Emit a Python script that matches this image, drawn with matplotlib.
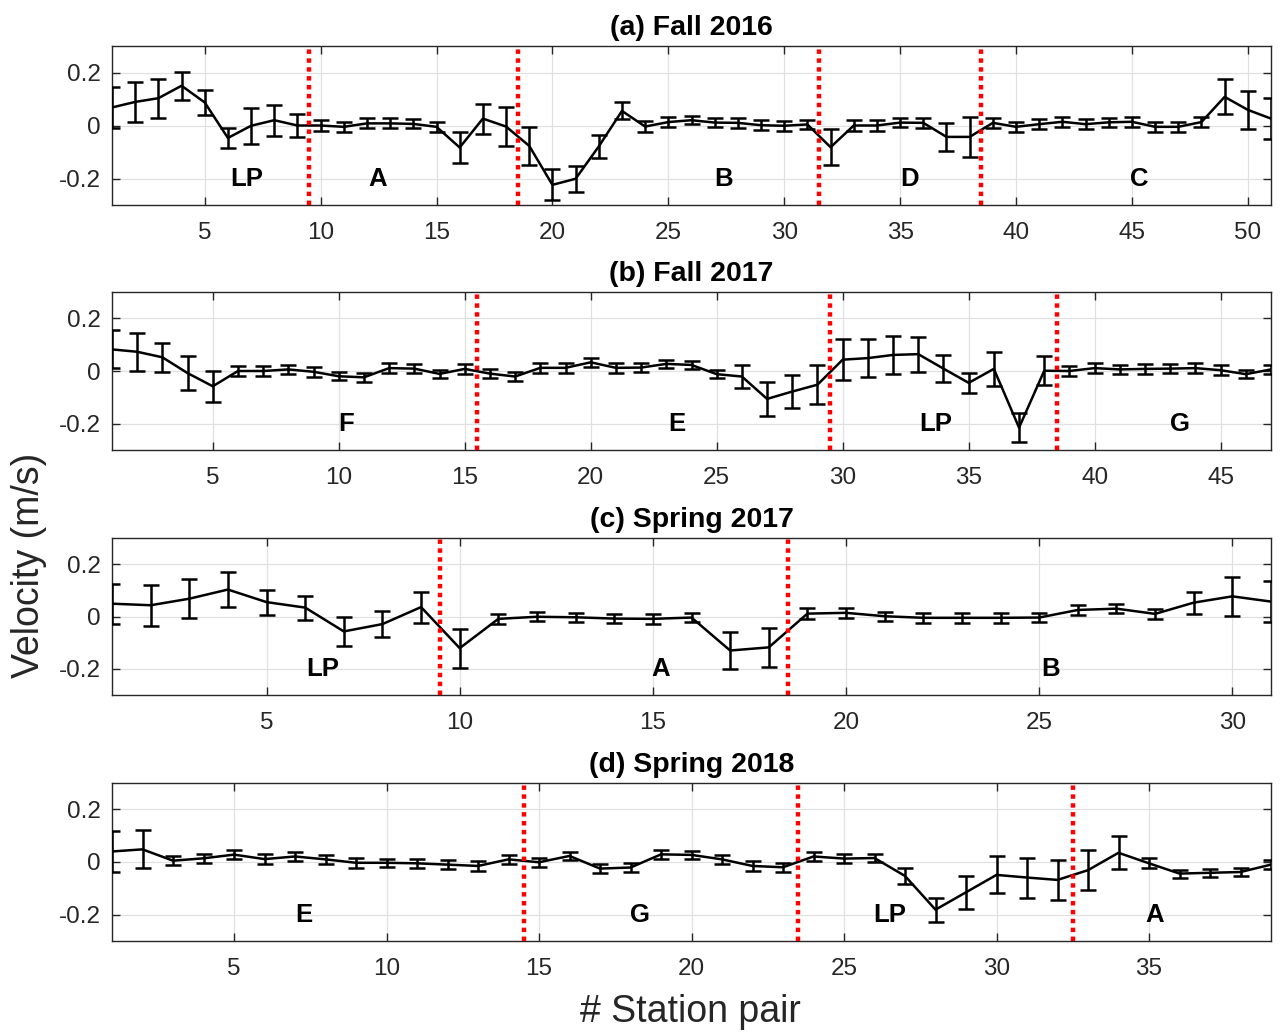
import matplotlib
matplotlib.use("Agg")
import matplotlib.pyplot as plt
import numpy as np

plt.rcParams['font.family'] = ['Liberation Sans', 'DejaVu Sans']

# ---------------- data ----------------
titles = ["(a) Fall 2016", "(b) Fall 2017", "(c) Spring 2017", "(d) Spring 2018"]

vel_a = [0.068, 0.089, 0.103, 0.150, 0.087, -0.047, -0.001, 0.020, 0.000, 0.000,
         -0.005, 0.008, 0.008, 0.006, -0.005, -0.083, 0.026, -0.004, -0.077, -0.224,
         -0.201, -0.079, 0.055, -0.004, 0.013, 0.020, 0.011, 0.010, 0.001, -0.001,
         0.004, -0.082, 0.000, 0.000, 0.011, 0.010, -0.043, -0.043, 0.010, -0.005,
         0.005, 0.014, 0.005, 0.012, 0.014, -0.005, -0.005, 0.013, 0.108, 0.059,
         0.026]
err_a = [0.077, 0.075, 0.073, 0.053, 0.046, 0.039, 0.068, 0.058, 0.044, 0.020,
         0.019, 0.019, 0.019, 0.017, 0.019, 0.059, 0.057, 0.075, 0.072, 0.058,
         0.049, 0.045, 0.032, 0.020, 0.019, 0.016, 0.018, 0.018, 0.018, 0.018,
         0.018, 0.068, 0.020, 0.020, 0.018, 0.018, 0.053, 0.075, 0.019, 0.019,
         0.018, 0.018, 0.018, 0.018, 0.018, 0.019, 0.019, 0.018, 0.066, 0.071,
         0.076]

vel_b = [0.082, 0.073, 0.052, -0.008, -0.058, 0.000, 0.000, 0.006, -0.003, -0.020,
         -0.024, 0.011, 0.009, -0.011, 0.008, -0.010, -0.021, 0.012, 0.012, 0.033,
         0.012, 0.013, 0.027, 0.023, -0.012, -0.021, -0.106, -0.078, -0.052, 0.043,
         0.049, 0.061, 0.064, 0.009, -0.045, 0.008, -0.215, 0.001, 0.000, 0.011,
         0.006, 0.008, 0.009, 0.011, 0.003, -0.012, 0.006]
err_b = [0.072, 0.072, 0.055, 0.065, 0.058, 0.020, 0.018, 0.018, 0.018, 0.016,
         0.016, 0.018, 0.018, 0.016, 0.018, 0.018, 0.016, 0.018, 0.018, 0.018,
         0.018, 0.018, 0.016, 0.016, 0.016, 0.045, 0.064, 0.063, 0.073, 0.078,
         0.073, 0.073, 0.067, 0.052, 0.037, 0.064, 0.054, 0.056, 0.018, 0.018,
         0.018, 0.018, 0.018, 0.018, 0.018, 0.016, 0.018]

vel_c = [0.049, 0.043, 0.068, 0.103, 0.055, 0.034, -0.057, -0.029, 0.036, -0.121,
         -0.009, -0.001, -0.003, -0.008, -0.009, -0.004, -0.130, -0.118, 0.011, 0.014,
         0.001, -0.005, -0.005, -0.005, -0.004, 0.025, 0.030, 0.010, 0.053, 0.077,
         0.057]
err_c = [0.076, 0.078, 0.074, 0.067, 0.048, 0.046, 0.057, 0.051, 0.059, 0.074,
         0.020, 0.018, 0.018, 0.018, 0.018, 0.018, 0.069, 0.074, 0.020, 0.018,
         0.018, 0.018, 0.018, 0.018, 0.018, 0.018, 0.016, 0.018, 0.042, 0.075,
         0.077]

vel_d = [0.040, 0.048, 0.005, 0.014, 0.028, 0.011, 0.021, 0.010, -0.003, -0.003,
         -0.005, -0.010, -0.015, 0.010, -0.001, 0.023, -0.025, -0.021, 0.029, 0.027,
         0.010, -0.015, -0.020, 0.021, 0.013, 0.015, -0.053, -0.181, -0.115, -0.049,
         -0.059, -0.068, -0.031, 0.035, -0.005, -0.044, -0.041, -0.038, -0.010]
err_d = [0.077, 0.072, 0.018, 0.018, 0.016, 0.018, 0.016, 0.018, 0.018, 0.016,
         0.018, 0.016, 0.018, 0.018, 0.018, 0.016, 0.018, 0.018, 0.016, 0.016,
         0.016, 0.018, 0.018, 0.016, 0.016, 0.016, 0.029, 0.045, 0.062, 0.070,
         0.076, 0.075, 0.075, 0.063, 0.019, 0.015, 0.015, 0.015, 0.016]

bounds_a = [9.5, 18.5, 31.5, 38.5]
bounds_b = [15.5, 29.5, 38.5]
bounds_c = [9.5, 18.5]
bounds_d = [14.5, 23.5, 32.5]

regions_a = ["LP", "A", "B", "D", "C"]
regpos_a = [6.8, 12.45, 27.4, 35.4, 45.3]
regions_b = ["F", "E", "LP", "G"]
regpos_b = [10.3, 23.4, 33.7, 43.4]
regions_c = ["LP", "A", "B"]
regpos_c = [6.45, 15.2, 25.3]
regions_d = ["E", "G", "LP", "A"]
regpos_d = [7.3, 18.3, 26.5, 35.2]

yticks = [-0.2, 0, 0.2]
yticklabels = ["-0.2", "0", "0.2"]

panels = [
    (vel_a, err_a, bounds_a, regions_a, regpos_a),
    (vel_b, err_b, bounds_b, regions_b, regpos_b),
    (vel_c, err_c, bounds_c, regions_c, regpos_c),
    (vel_d, err_d, bounds_d, regions_d, regpos_d),
]

# ---------------- figure ----------------
W, H = 1283, 1036
fig = plt.figure(figsize=(W / 100, H / 100), dpi=100)

left_px, right_px = 112, 1271
tops = [46, 292, 538, 783]
bots = [205, 450, 695, 941]

tick_col = '#262626'
for i, (vel, err, bnds, regs, rpos) in enumerate(panels):
    ax = fig.add_axes([left_px / W, 1 - bots[i] / H,
                       (right_px - left_px) / W, (bots[i] - tops[i]) / H])
    n = len(vel)
    x = np.arange(1, n + 1)
    ax.errorbar(x, vel, yerr=err, color='black', lw=1.8, capsize=5.5,
                capthick=1.8, elinewidth=1.8, zorder=3)
    for b in bnds:
        ax.axvline(b, color='red', ls=(0, (1, 1)), lw=3.2, zorder=4)
    for r, p in zip(regs, rpos):
        ax.text(p, -0.2, r, ha='center', va='center', fontsize=18.5,
                fontweight='bold', color='black', zorder=5)
    ax.set_xlim(1, n)
    ax.set_ylim(-0.3, 0.3)
    ax.set_xticks(np.arange(5, n + 1, 5))
    ax.set_yticks(yticks)
    ax.set_yticklabels(yticklabels)
    ax.grid(True, color='#e0e0e0', lw=0.9, zorder=0)
    ax.set_axisbelow(True)
    ax.tick_params(direction='in', top=True, right=True, length=6,
                   width=1.0, labelsize=17.5, colors=tick_col)
    ax.tick_params(axis='x', pad=12)
    ax.tick_params(axis='y', pad=8)
    for sp in ax.spines.values():
        sp.set_color(tick_col)
        sp.set_linewidth(1.0)
    ax.set_title(titles[i], fontsize=20.5, fontweight='bold', pad=8)

fig.text(29 / W, 1 - 565 / H, "Velocity (m/s)", rotation=90, ha='center',
         va='center', fontsize=27, color=tick_col)
fig.text(690 / W, 1 - 1012 / H, "# Station pair", ha='center', va='center',
         fontsize=27, color=tick_col)

fig.savefig("out.png", dpi=100)
